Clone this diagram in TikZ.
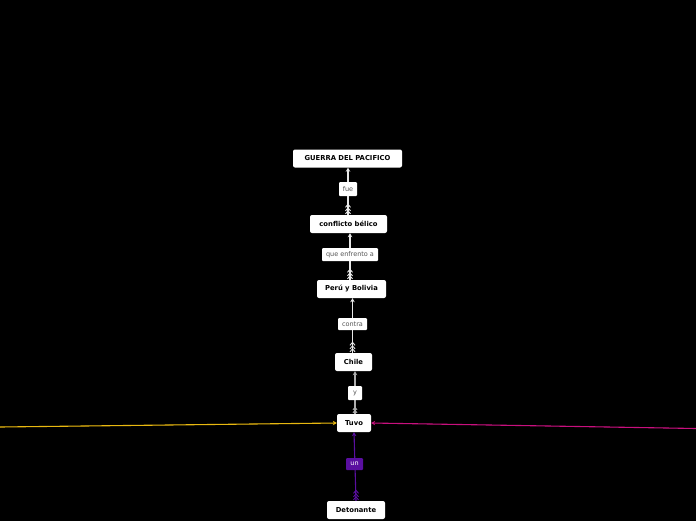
\documentclass[tikz,border=0pt]{standalone}
\usepackage{fontspec}
\setmainfont{DejaVu Sans}
\usetikzlibrary{arrows.meta,calc}
\pgfdeclarelayer{bg}
\pgfdeclarelayer{lines}
\pgfsetlayers{bg,lines,main}
\definecolor{ylw}{HTML}{E8B810}
\definecolor{mag}{HTML}{C8107E}
\definecolor{prp}{HTML}{5A0FA0}
\definecolor{lnk}{HTML}{E8E8E8}
\definecolor{lbltxt}{HTML}{555555}
\tikzset{
  topic/.style={draw=none,fill=white,rounded corners=2pt,font=\fontsize{6.8}{8}\selectfont\bfseries,text=black,inner sep=0pt,minimum height=18pt},
  lbl/.style={draw=none,fill=white,rounded corners=1pt,font=\fontsize{6.5}{7}\selectfont,text=lbltxt,inner sep=0pt,minimum height=13pt},
  conn/.style={line width=1.1pt,draw=lnk,-{Stealth[length=4pt,width=4.5pt]}},
  chev/.style={line width=0.9pt,draw=lnk},
}
\newcommand{\chevs}[2]{% #1 colour, #2 base point (top of lower node)
  \draw[chev,draw=#1] ($#2+(-2.5,-4)$) -- ($#2+(0,-7)$) -- ($#2+(2.5,-4)$);
  \draw[chev,draw=#1] ($#2+(-2.5,-7.5)$) -- ($#2+(0,-10.5)$) -- ($#2+(2.5,-7.5)$);
  \draw[chev,draw=#1] ($#2+(-2.5,-1)$) -- ($#2+(0,-4)$) -- ($#2+(2.5,-1)$);
}
\newcommand{\smallchevs}[2]{%
  \draw[chev,draw=#1] ($#2+(-2,-1)$) -- ($#2+(0,-3.5)$) -- ($#2+(2,-1)$);
  \draw[chev,draw=#1] ($#2+(-2,-4)$) -- ($#2+(0,-6.5)$) -- ($#2+(2,-4)$);
}
\begin{document}
\begin{tikzpicture}[x=1pt,y=-1pt]
\useasboundingbox (0,0) rectangle (696,520);
\begin{pgfonlayer}{bg}
\fill[black] (-10,-10) rectangle (706,530);
\end{pgfonlayer}
\node[topic,minimum width=109pt] (guerra) at (347.5,158.5) {GUERRA DEL PACIFICO};
\node[lbl,minimum width=18pt,minimum height=14pt] (fue) at (348,189) {fue};
\node[topic,minimum width=77pt] (conflicto) at (348.5,224) {conflicto bélico};
\node[lbl,minimum width=56pt] (enfrento) at (350,254.5) {que enfrento a};
\node[topic,minimum width=69pt] (peru) at (351.5,289) {Perú y Bolivia};
\node[lbl,minimum width=29pt,minimum height=12pt] (contra) at (352.5,324) {contra};
\node[topic,minimum width=37pt] (chile) at (353.5,362) {Chile};
\node[lbl,minimum width=14pt,minimum height=14pt] (y) at (355,393) {y};
\node[topic,minimum width=34pt] (tuvo) at (354,423) {Tuvo};
\node[lbl,fill=prp,text=white,minimum width=17pt,minimum height=12pt] (un) at (354.5,464) {un};
\node[topic,minimum width=58pt] (deto) at (356,510) {Detonante};
\coordinate (yl) at (0,427);
\coordinate (mg) at (696,428.5);

\begin{pgfonlayer}{lines}
\draw[conn] (conflicto.north -| fue) -- (guerra.south -| fue);
\draw[conn] (peru.north -| enfrento) -- (conflicto.south -| enfrento);
\draw[conn] (chile.north -| contra) -- (peru.south -| contra);
\draw[conn,draw=lnk!75!black] (tuvo.north -| y) -- (chile.south -| y);
\draw[conn,draw=prp,fill=prp] (deto.north) -- (tuvo.south);
\draw[line width=1.1pt,draw=ylw,fill=ylw,-{Stealth[length=4pt,width=4.5pt]}] (yl) -- (tuvo.west);
\draw[line width=1.1pt,draw=mag,fill=mag,-{Stealth[length=4pt,width=4.5pt]}] (mg) -- (tuvo.east);
\chevs{lnk}{(conflicto.north -| fue)}
\chevs{lnk}{(peru.north -| enfrento)}
\chevs{lnk}{(chile.north -| contra)}
\smallchevs{lnk!75!black}{(tuvo.north -| y)}
\chevs{prp}{(deto.north)}
\end{pgfonlayer}
\end{tikzpicture}
\end{document}
